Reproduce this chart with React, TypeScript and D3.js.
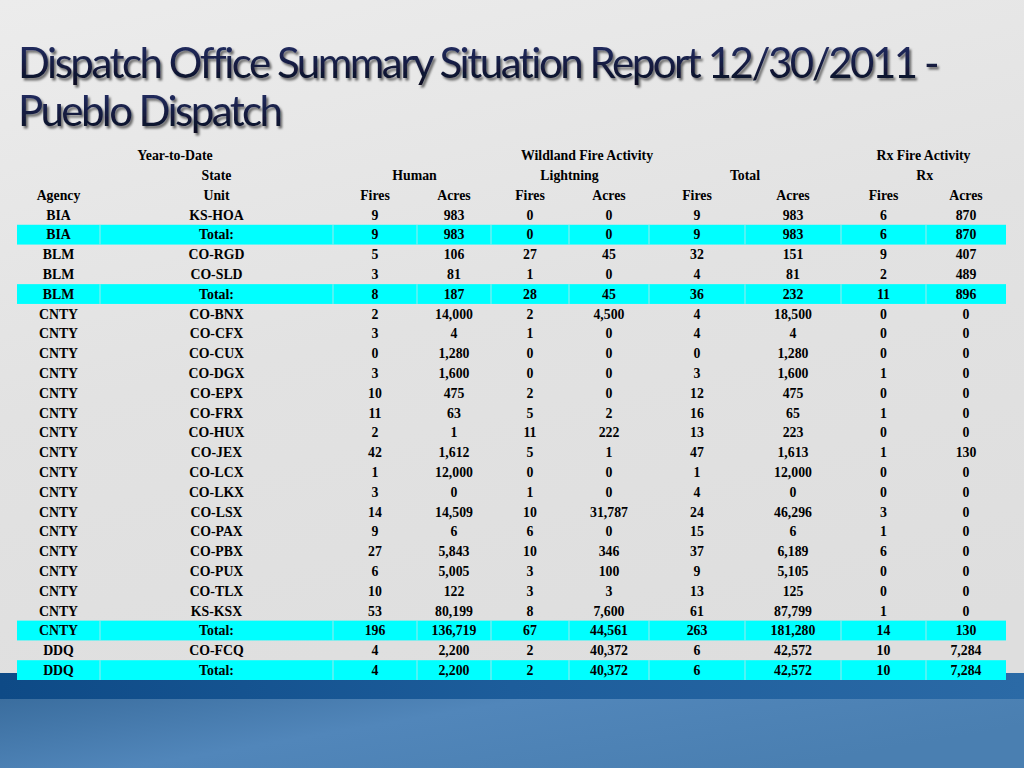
import * as d3 from 'd3';
import React, { useRef, useEffect } from 'react';

// table data
const agencies = ['BIA', 'BIA', 'BLM', 'BLM', 'BLM', 'CNTY', 'CNTY', 'CNTY', 'CNTY', 'CNTY', 'CNTY', 'CNTY', 'CNTY', 'CNTY', 'CNTY', 'CNTY', 'CNTY', 'CNTY', 'CNTY', 'CNTY', 'CNTY', 'CNTY', 'DDQ', 'DDQ'];
const units = ['KS-HOA', 'Total:', 'CO-RGD', 'CO-SLD', 'Total:', 'CO-BNX', 'CO-CFX', 'CO-CUX', 'CO-DGX', 'CO-EPX', 'CO-FRX', 'CO-HUX', 'CO-JEX', 'CO-LCX', 'CO-LKX', 'CO-LSX', 'CO-PAX', 'CO-PBX', 'CO-PUX', 'CO-TLX', 'KS-KSX', 'Total:', 'CO-FCQ', 'Total:'];
const humanFires = [9, 9, 5, 3, 8, 2, 3, 0, 3, 10, 11, 2, 42, 1, 3, 14, 9, 27, 6, 10, 53, 196, 4, 4];
const humanAcres = [983, 983, 106, 81, 187, 14000, 4, 1280, 1600, 475, 63, 1, 1612, 12000, 0, 14509, 6, 5843, 5005, 122, 80199, 136719, 2200, 2200];
const lightningFires = [0, 0, 27, 1, 28, 2, 1, 0, 0, 2, 5, 11, 5, 0, 1, 10, 6, 10, 3, 3, 8, 67, 2, 2];
const lightningAcres = [0, 0, 45, 0, 45, 4500, 0, 0, 0, 0, 2, 222, 1, 0, 0, 31787, 0, 346, 100, 3, 7600, 44561, 40372, 40372];
const totalFires = [9, 9, 32, 4, 36, 4, 4, 0, 3, 12, 16, 13, 47, 1, 4, 24, 15, 37, 9, 13, 61, 263, 6, 6];
const totalAcres = [983, 983, 151, 81, 232, 18500, 4, 1280, 1600, 475, 65, 223, 1613, 12000, 0, 46296, 6, 6189, 5105, 125, 87799, 181280, 42572, 42572];
const rxFires = [6, 6, 9, 2, 11, 0, 0, 0, 1, 0, 1, 0, 1, 0, 0, 3, 1, 6, 0, 0, 1, 14, 10, 10];
const rxAcres = [870, 870, 407, 489, 896, 0, 0, 0, 0, 0, 0, 0, 130, 0, 0, 0, 0, 0, 0, 0, 0, 130, 7284, 7284];

const colHeaders = ['Agency', 'Unit', 'Fires', 'Acres', 'Fires', 'Acres', 'Fires', 'Acres', 'Fires', 'Acres'];
const groupHeaders = ['State', 'Human', 'Lightning', 'Total', 'Rx'];
const topHeaders = ['Year-to-Date', 'Wildland Fire Activity', 'Rx Fire Activity'];
const titleLines = ['Dispatch Office Summary Situation Report 12/30/2011 -', 'Pueblo Dispatch'];

function App() {
    const ref = useRef(null);
    const width = 1024, height = 768;

    useEffect(() => {
        draw();
    }, []);

    const draw = () => {
        const svg = d3.select(ref.current);
        svg.selectAll('*').remove();

        const defs = svg.append('defs');
        const bg = defs.append('linearGradient').attr('id', 'bg').attr('x1', 0).attr('y1', 0).attr('x2', 0.3).attr('y2', 1);
        bg.append('stop').attr('offset', '0%').attr('stop-color', '#ececec');
        bg.append('stop').attr('offset', '50%').attr('stop-color', '#e2e2e2');
        bg.append('stop').attr('offset', '100%').attr('stop-color', '#dedede');

        const band = defs.append('linearGradient').attr('id', 'band').attr('x1', 0).attr('y1', 0).attr('x2', 1).attr('y2', 0);
        band.append('stop').attr('offset', '0%').attr('stop-color', '#0e4a86');
        band.append('stop').attr('offset', '50%').attr('stop-color', '#1d5d9b');
        band.append('stop').attr('offset', '100%').attr('stop-color', '#2b6aa6');

        const low = defs.append('linearGradient').attr('id', 'low').attr('x1', 0).attr('y1', 0).attr('x2', 1).attr('y2', 0.4);
        low.append('stop').attr('offset', '0%').attr('stop-color', '#3a6d9e');
        low.append('stop').attr('offset', '45%').attr('stop-color', '#5186ba');
        low.append('stop').attr('offset', '100%').attr('stop-color', '#4a7fb1');

        const tg = defs.append('linearGradient').attr('id', 'titlefill').attr('x1', 0).attr('y1', 0).attr('x2', 0).attr('y2', 1);
        tg.append('stop').attr('offset', '0%').attr('stop-color', '#27326c');
        tg.append('stop').attr('offset', '100%').attr('stop-color', '#080b1e');

        const sh = defs.append('filter').attr('id', 'shadow')
            .attr('filterUnits', 'userSpaceOnUse')
            .attr('x', 0).attr('y', 20).attr('width', width).attr('height', 130);
        sh.append('feDropShadow').attr('dx', 2).attr('dy', 2.5).attr('stdDeviation', 1.2)
            .attr('flood-color', '#000').attr('flood-opacity', 0.55);

        // background
        svg.append('rect').attr('width', width).attr('height', height).attr('fill', 'url(#bg)');
        svg.append('rect').attr('x', 0).attr('y', 698).attr('width', width).attr('height', 70).attr('fill', 'url(#low)');
        svg.append('rect').attr('x', 0).attr('y', 673).attr('width', width).attr('height', 26).attr('fill', 'url(#band)');

        // title: fit each line to its width with letter-spacing
        const titleWidths = [920, 265];
        const title = svg.append('g').attr('filter', 'url(#shadow)')
            .style('font-family', 'Lato, "Open Sans", sans-serif').style('font-size', '42px')
            .attr('fill', 'url(#titlefill)');
        title.selectAll('text').data(titleLines).enter().append('text')
            .attr('x', 18).attr('y', (d, i) => 78 + i * 48)
            .text(d => d)
            .each(function (d, i) {
                const natural = this.getComputedTextLength();
                const ls = (titleWidths[i] - natural) / (d.length - 1);
                d3.select(this).style('letter-spacing', ls + 'px');
            });

        // layout
        const colEdges = [17, 100, 333, 417, 491, 569, 649, 745, 841, 926, 1006];
        const centers = colEdges.slice(0, -1).map((e, i) => (e + colEdges[i + 1]) / 2);
        const nRows = agencies.length;
        const y = d3.scaleBand()
            .domain(d3.range(-3, nRows).map(String))
            .range([145.6, 680])
            .paddingInner(0);

        const columns = [agencies, units, humanFires, humanAcres, lightningFires, lightningAcres, totalFires, totalAcres, rxFires, rxAcres];
        const fmt = d3.format(',');

        const g = svg.append('g')
            .style('font-family', '"Liberation Serif", "Times New Roman", serif')
            .style('font-weight', 'bold').style('font-size', '13.8px')
            .attr('fill', '#000');

        // total rows highlight
        const totals = d3.range(nRows).filter(i => units[i] === 'Total:');
        g.selectAll('rect.tot').data(totals).enter().append('rect')
            .attr('class', 'tot')
            .attr('x', colEdges[0])
            .attr('y', d => y(String(d)))
            .attr('width', colEdges[colEdges.length - 1] - colEdges[0])
            .attr('height', y.bandwidth())
            .attr('fill', '#00ffff');
        totals.forEach(t => {
            g.selectAll(null).data(colEdges.slice(1, -1)).enter().append('line')
                .attr('x1', d => d).attr('x2', d => d)
                .attr('y1', y(String(t))).attr('y2', y(String(t)) + y.bandwidth())
                .attr('stroke', '#9fe8ea').attr('stroke-width', 1);
        });

        const cy = (r) => y(String(r)) + y.bandwidth() / 2;

        // header rows
        const topX = [(colEdges[0] + colEdges[2]) / 2, (colEdges[2] + colEdges[8]) / 2, (colEdges[8] + colEdges[10]) / 2];
        g.selectAll('text.top').data(topHeaders).enter().append('text')
            .attr('x', (d, i) => topX[i]).attr('y', cy(-3)).attr('dy', '0.35em')
            .attr('text-anchor', 'middle').text(d => d);

        const groupX = [centers[1], (centers[2] + centers[3]) / 2, (centers[4] + centers[5]) / 2, (centers[6] + centers[7]) / 2, (centers[8] + centers[9]) / 2];
        g.selectAll('text.grp').data(groupHeaders).enter().append('text')
            .attr('x', (d, i) => groupX[i]).attr('y', cy(-2)).attr('dy', '0.35em')
            .attr('text-anchor', 'middle').text(d => d);

        g.selectAll('text.col').data(colHeaders).enter().append('text')
            .attr('x', (d, i) => centers[i]).attr('y', cy(-1)).attr('dy', '0.35em')
            .attr('text-anchor', 'middle').text(d => d);

        // body cells
        columns.forEach((col, ci) => {
            g.selectAll(null).data(col).enter().append('text')
                .attr('x', centers[ci])
                .attr('y', (d, i) => cy(i))
                .attr('dy', '0.35em')
                .attr('text-anchor', 'middle')
                .text(d => typeof d === 'number' ? fmt(d) : d);
        });
    };

    return (
        <svg ref={ref} width={width} height={height}
            style={{ position: 'absolute', left: 0, top: 0, display: 'block' }}>
        </svg>
    );
}

export default App;
